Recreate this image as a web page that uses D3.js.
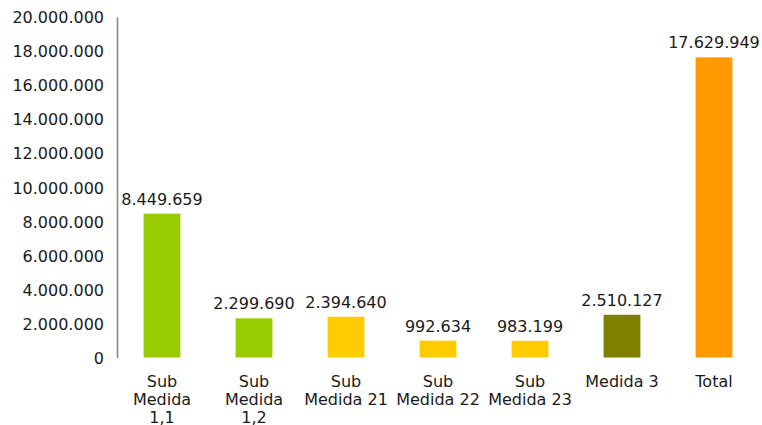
<!DOCTYPE html>
<html><head><meta charset="utf-8">
<script src="https://cdn.jsdelivr.net/npm/d3@7"></script>
<style>body{margin:0;background:#fff}svg{display:block}text{font-family:"DejaVu Sans",Verdana,sans-serif;fill:#1a1a1a}</style>
</head><body>
<script>
const categories = ["Sub Medida 1,1","Sub Medida 1,2","Sub Medida 21","Sub Medida 22","Sub Medida 23","Medida 3","Total"];
const values = [8449659, 2299690, 2394640, 992634, 983199, 2510127, 17629949];
const colors = ["#99cc00","#99cc00","#ffcc00","#ffcc00","#ffcc00","#808000","#ff9900"];
const yTicks = [0,2000000,4000000,6000000,8000000,10000000,12000000,14000000,16000000,18000000,20000000];

const W = 762, H = 425;
const svg = d3.select("body").append("svg").attr("width", W).attr("height", H);
const fmt = d3.formatLocale({decimal:",", thousands:".", grouping:[3], currency:["",""]}).format(",d");

const x = d3.scaleBand().domain(categories).range([116, 760]).paddingInner(0.6).paddingOuter(0.3);
const y = d3.scaleLinear().domain([0, 20000000]).range([357.5, 17]);

// y axis
const yAxis = svg.append("g").attr("transform","translate(117,0)")
  .call(d3.axisLeft(y).tickValues(yTicks).tickFormat(fmt).tickSize(0).tickPadding(13));
yAxis.select(".domain").attr("stroke","#888").attr("stroke-width",1.6);
yAxis.selectAll("text").style("font-size","16px").attr("fill","#1a1a1a").attr("dy","0.36em");

// bars
svg.selectAll("rect.bar").data(values).join("rect").attr("class","bar")
  .attr("x",(d,i)=>x(categories[i]))
  .attr("width",x.bandwidth())
  .attr("y",d=>y(d))
  .attr("height",d=>y(0)-y(d))
  .attr("fill",(d,i)=>colors[i]);

// value labels
svg.selectAll("text.val").data(values).join("text").attr("class","val")
  .attr("x",(d,i)=>x(categories[i])+x.bandwidth()/2)
  .attr("y",d=>y(d)-9)
  .attr("text-anchor","middle")
  .style("font-size","16px")
  .text(d=>fmt(d));

// category labels with wrapping
const maxW = 86;
categories.forEach((c,i)=>{
  const t = svg.append("text").attr("text-anchor","middle").style("font-size","16px")
    .attr("x", x(c)+x.bandwidth()/2).attr("y", y(0)+29);
  const words = c.split(" ");
  let lines = [], cur = [];
  const probe = svg.append("text").style("font-size","16px");
  words.forEach(w=>{
    const test = cur.concat([w]).join(" ");
    probe.text(test);
    if (cur.length && probe.node().getComputedTextLength() > maxW) { lines.push(cur.join(" ")); cur=[w]; }
    else cur.push(w);
  });
  lines.push(cur.join(" "));
  probe.remove();
  lines.forEach((l,j)=>{
    t.append("tspan").attr("x", x(c)+x.bandwidth()/2).attr("dy", j===0?0:18).text(l);
  });
});
</script>
</body></html>
